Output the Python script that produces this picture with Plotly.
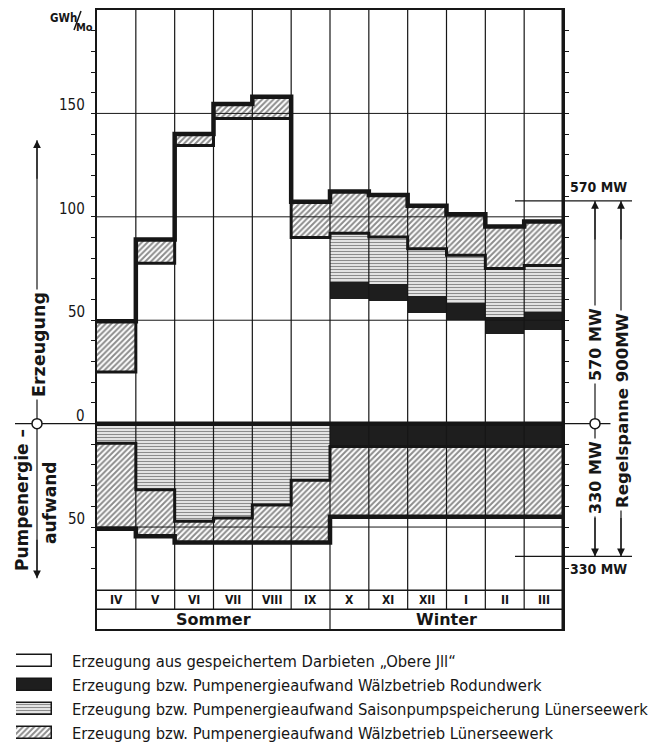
import plotly.graph_objects as go

# ---------------- data (GWh per month) ----------------
months = ["IV", "V", "VI", "VII", "VIII", "IX", "X", "XI", "XII", "I", "II", "III"]
seasons = ["Sommer", "Winter"]
season_span = [(0, 5), (6, 11)]

# Erzeugung (stacked upward from 0)
obere_ill_gen = [25.0, 77.5, 134.5, 147.5, 147.5, 90.0, 60.5, 59.3, 53.5, 50.3, 43.5, 45.5]
rodund_gen    = [0, 0, 0, 0, 0, 0, 8.0, 8.4, 8.1, 8.0, 8.0, 8.5]
saison_gen    = [0, 0, 0, 0, 0, 0, 23.5, 22.5, 23.0, 23.1, 23.5, 22.5]
waelz_gen     = [24.5, 11.5, 5.5, 7.0, 10.5, 17.3, 20.2, 20.3, 20.8, 19.9, 20.3, 21.2]

# Pumpenergieaufwand (stacked downward from 0)
rodund_pump = [0, 0, 0, 0, 0, 0, 11, 11, 11, 11, 11, 11]
saison_pump = [9.5, 32.0, 47.2, 45.6, 39.3, 27.4, 0, 0, 0, 0, 0, 0]
waelz_pump  = [41.3, 22.4, 10.3, 12.0, 18.2, 30.1, 34, 34, 34, 34, 34, 34]

major_ticks = [150, 100, 50, 0, -50]
major_tick_text = ["150", "100", "50", "0", "50"]
mw_upper, mw_upper_text = 107.7, "570 MW"
mw_lower, mw_lower_text = -64.2, "330 MW"

legend_labels = [
    "Erzeugung aus gespeichertem Darbieten „Obere Jll“",
    "Erzeugung bzw. Pumpenergieaufwand Wälzbetrieb Rodundwerk",
    "Erzeugung bzw. Pumpenergieaufwand Saisonpumpspeicherung Lünerseewerk",
    "Erzeugung bzw. Pumpenergieaufwand Wälzbetrieb Lünerseewerk",
]

# ---------------- styling ----------------
W, H = 656, 752
FONT = "DejaVu Sans Condensed, Liberation Sans Narrow, Arial Narrow, sans-serif"
WIDE = "DejaVu Sans, Verdana, sans-serif"
BLACK = "#161616"
DARK = "#1e1e1e"
hatch = dict(shape="/", fgcolor="#1a1a1a", bgcolor="white", size=4, solidity=0.5)
hlines = dict(shape="-", fgcolor="#1a1a1a", bgcolor="white", size=3, solidity=0.5)

def px(x):
    return x / W

def py(y):
    return 1 - y / H

def val(ypix):
    # pixel row of the reference -> GWh value
    return (423.3 - ypix) / 2.068

Y_RANGE = [-99.3, 200]
ROW_MONTH_TOP = -80.6
ROW_SEASON_TOP = -89.8
n = len(months)
xi = list(range(n))

# cumulative boundaries
g1 = obere_ill_gen
g2 = [a + b for a, b in zip(g1, rodund_gen)]
g3 = [a + b for a, b in zip(g2, saison_gen)]
g4 = [a + b for a, b in zip(g3, waelz_gen)]
p1 = [-a for a in rodund_pump]
p2 = [a - b for a, b in zip(p1, saison_pump)]
p3 = [a - b for a, b in zip(p2, waelz_pump)]

fig = go.Figure()

def bar(base, top, color, pattern=None):
    m = dict(color=color, line=dict(width=0))
    if pattern:
        m["pattern"] = pattern
    fig.add_trace(go.Bar(x=xi, base=base, y=[t - b for t, b in zip(top, base)],
                         width=1.0, marker=m, showlegend=False, hoverinfo="skip"))

# positive side
bar(g1, g2, DARK)
bar(g2, g3, "white", hlines)
bar(g3, g4, "white", hatch)
# negative side
bar([0] * n, p1, DARK)
bar(p1, p2, "white", hlines)
bar(p2, p3, "white", hatch)

def step(vals, width):
    xs, ys = [], []
    for i, v in enumerate(vals):
        xs += [i - 0.5, i + 0.5]
        ys += [v, v]
    fig.add_trace(go.Scatter(x=xs, y=ys, mode="lines", line=dict(color=BLACK, width=width),
                             showlegend=False, hoverinfo="skip"))

step(g4, 4.5)
step(g3, 3)
step(p2, 3)
step(p3, 4.5)

# legend boxes (own small axes)
leg_colors = ["white", DARK, "white", "white"]
leg_patterns = [None, None, hlines, hatch]
for k in range(4):
    m = dict(color=leg_colors[k], line=dict(color=BLACK, width=1.5))
    if leg_patterns[k]:
        m["pattern"] = leg_patterns[k]
    fig.add_trace(go.Bar(x=[1], y=[k], base=[0], orientation="h", width=0.5, marker=m,
                         xaxis="x2", yaxis="y2", showlegend=False, hoverinfo="skip"))

shapes = []
def line(x0, y0, x1, y1, xref="x", yref="y", w=1, color=BLACK):
    shapes.append(dict(type="line", x0=x0, y0=y0, x1=x1, y1=y1, xref=xref, yref=yref,
                       line=dict(color=color, width=w), layer="above"))

# vertical month dividers
for i in range(1, n):
    bottom = Y_RANGE[0] if i == season_span[1][0] else ROW_SEASON_TOP
    line(i - 0.5, 200, i - 0.5, bottom, w=1.2)
# horizontal grid lines
for v in major_ticks:
    if v != 0:
        line(-0.5, v, 11.5, v, w=1)
# zero line
line(-0.5, 0, 11.5, 0, w=4.5)
line(px(15), 0, px(97), 0, xref="paper", w=1.2)
line(px(563), 0, px(614), 0, xref="paper", w=1.2)
# label rows
line(-0.5, ROW_MONTH_TOP, 11.5, ROW_MONTH_TOP, w=1.5)
line(-0.5, ROW_SEASON_TOP, 11.5, ROW_SEASON_TOP, w=1.5)
# right border heavier
line(11.5, 200, 11.5, Y_RANGE[0], w=3)
# MW marks
line(px(515), mw_upper, px(632), mw_upper, xref="paper", w=1.2)
line(px(515), mw_lower, px(632), mw_lower, xref="paper", w=1.2)

# right arrows
for xa in (595, 621):
    line(px(xa), mw_upper, px(xa), mw_lower, xref="paper", w=1.2)
# left arrow
line(px(37), val(140), px(37), val(578), xref="paper", w=1.2)

# circles
for xc in (37, 595):
    shapes.append(dict(type="circle", xref="paper", yref="y", xsizemode="pixel", ysizemode="pixel",
                       xanchor=px(xc), yanchor=0, x0=-5, x1=5, y0=-5, y1=5,
                       fillcolor="white", line=dict(color=BLACK, width=1.5), layer="above"))
# GWh / Mo slash
shapes.append(dict(type="line", xref="paper", yref="paper", x0=px(74), y0=py(30), x1=px(81), y1=py(11),
                   line=dict(color=BLACK, width=1.5)))

anns = []
def txt(t, x, y, size=14, bold=False, angle=0, xref="paper", yref="paper", xanchor="center",
        yanchor="middle", bg=None, family=FONT):
    a = dict(text=f"<b>{t}</b>" if bold else t, x=x, y=y, xref=xref, yref=yref, showarrow=False,
             textangle=angle, xanchor=xanchor, yanchor=yanchor,
             font=dict(family=family, size=size, color=BLACK))
    if bg:
        a["bgcolor"] = bg
        a["borderpad"] = 2
    anns.append(a)

def arrow(x, y, ay):
    anns.append(dict(x=x, y=y, xref="paper", yref="y", ax=0, ay=ay, text="", showarrow=True,
                     arrowhead=2, arrowsize=1.3, arrowwidth=1.2, arrowcolor=BLACK, standoff=0))

# y tick labels
for v, t in zip(major_ticks, major_tick_text):
    anns.append(dict(text=t, x=px(87), y=v, xref="paper", yref="y", xanchor="right", yanchor="middle",
                     yshift=8, showarrow=False, font=dict(family=FONT, size=15, color=BLACK)))
# unit
txt("GWh", px(63), py(18), size=11.5, bold=True)
txt("Mo", px(84), py(27), size=11, bold=True)

# month / season labels
for i, m in enumerate(months):
    txt(m, i, (ROW_MONTH_TOP + ROW_SEASON_TOP) / 2, size=12, bold=True, xref="x", yref="y")
for s, (a, b) in zip(seasons, season_span):
    txt(s, (a + b) / 2, (ROW_SEASON_TOP + Y_RANGE[0]) / 2, size=16, bold=True, xref="x", yref="y",
        family=WIDE)

# left side labels
txt("Erzeugung", px(39), py(345), size=17.5, bold=True, angle=-90, bg="white", family=WIDE)
txt("Pumpenergie –", px(22), py(500), size=17, bold=True, angle=-90, family=WIDE)
txt("aufwand", px(50), py(503), size=17, bold=True, angle=-90, family=WIDE)
arrow(px(37), val(140), 40)
arrow(px(37), val(578), -40)

# right side labels
txt(mw_upper_text, px(598), py(187), size=14, bold=True)
txt(mw_lower_text, px(598), py(569), size=14, bold=True)
txt(mw_upper_text, px(596), py(345), size=16, bold=True, angle=-90, bg="white", family=WIDE)
txt(mw_lower_text, px(596), py(478), size=16, bold=True, angle=-90, bg="white", family=WIDE)
txt("Regelspanne 900MW", px(622), py(411), size=16.5, bold=True, angle=-90, bg="white", family=WIDE)
for xa in (595, 621):
    arrow(px(xa), mw_upper, 40)
    arrow(px(xa), mw_lower, -40)

# legend texts
for k, lab in enumerate(legend_labels):
    txt(lab, px(70), py(661 + 24 * k), size=16.4, xanchor="left")

fig.update_layout(
    width=W, height=H, margin=dict(l=0, r=0, t=0, b=0),
    paper_bgcolor="white", plot_bgcolor="white",
    barmode="overlay", bargap=0, showlegend=False,
    shapes=shapes, annotations=anns,
    xaxis=dict(domain=[px(97), px(563)], range=[-0.5, 11.5], showgrid=False, zeroline=False,
               showticklabels=False, ticks="", showline=True, linecolor=BLACK, linewidth=1.5,
               mirror=True, fixedrange=True),
    yaxis=dict(domain=[py(629), py(10)], range=Y_RANGE, showgrid=False, zeroline=False,
               showticklabels=False, tickvals=list(range(-70, 200, 10)), ticks="outside",
               ticklen=4, tickwidth=1, tickcolor=BLACK, showline=True, linecolor=BLACK,
               linewidth=1.5, mirror="ticks", fixedrange=True),
    xaxis2=dict(domain=[px(16), px(52)], range=[0, 1], visible=False, anchor="y2", fixedrange=True),
    yaxis2=dict(domain=[py(745), py(649)], range=[3.5, -0.5], visible=False, anchor="x2",
                fixedrange=True),
)

fig.write_html("out.html", config={"displayModeBar": False},
               post_script="document.body.style.margin='0';document.body.style.overflow='hidden';")
